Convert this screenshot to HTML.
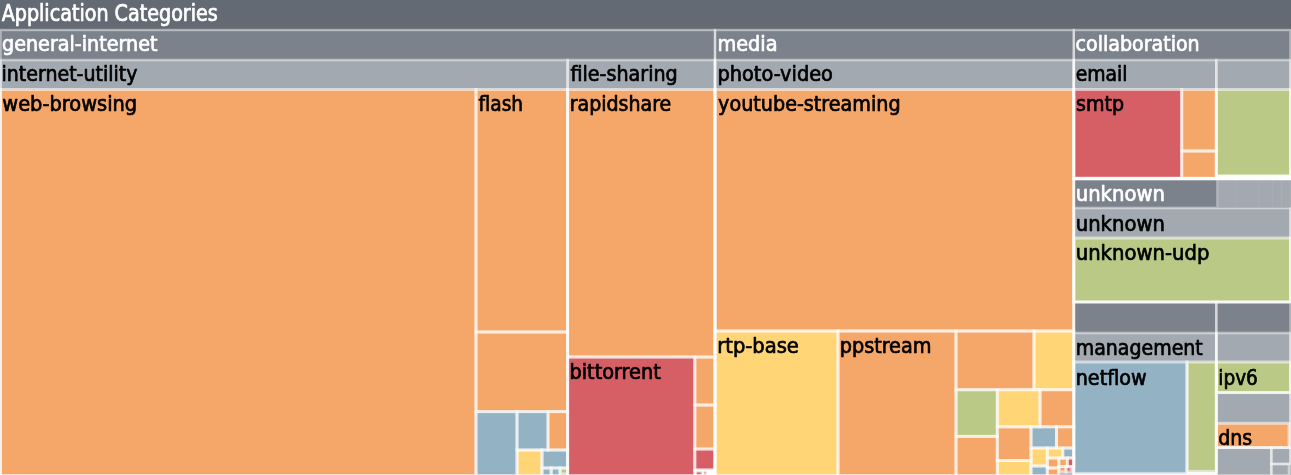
<!DOCTYPE html>
<html lang="en">
<head>
<meta charset="utf-8">
<title>Application Categories</title>
<style>
html,body{margin:0;padding:0;background:#fff;overflow:hidden}
svg{display:block}
text{font-family:"DejaVu Sans Condensed","Liberation Sans",sans-serif;font-size:22px;stroke-width:0.7;stroke-linejoin:round}
.s rect{fill:none;stroke:#fff;stroke-opacity:0.55;stroke-width:3.0}
.s rect.h1{stroke-width:2.4;stroke-opacity:0.46}
.s rect.h2{stroke-width:2.6;stroke-opacity:0.46}
</style>
</head>
<body>
<svg width="1291" height="475" viewBox="0 0 1291 475">
<defs><filter id="bl" filterUnits="userSpaceOnUse" x="-20" y="-20" width="1331" height="515"><feGaussianBlur stdDeviation="0.6"/></filter></defs>
<g filter="url(#bl)">
<rect x="-20" y="-20" width="1331" height="515" fill="#636a73"/>
<g class="f">
<rect x="0.5" y="30" width="714.5" height="445.8" fill="#7b828c"/>
<rect x="715" y="30" width="358.8" height="445.8" fill="#7b828c"/>
<rect x="1073.8" y="30" width="216.7" height="148.8" fill="#7b828c"/>
<rect x="1073.8" y="178.8" width="216.7" height="123.2" fill="#7b828c"/>
<rect x="1073.8" y="302" width="142.5" height="173.8" fill="#7b828c"/>
<rect x="1216.3" y="302" width="74.2" height="173.8" fill="#7b828c"/>
<rect x="0.5" y="60" width="567.1" height="415.8" fill="#a3a9b1"/>
<rect x="567.6" y="60" width="147.4" height="415.8" fill="#a3a9b1"/>
<rect x="715" y="60" width="358.8" height="415.8" fill="#a3a9b1"/>
<rect x="1073.8" y="60" width="142.5" height="118.8" fill="#a3a9b1"/>
<rect x="1216.3" y="60" width="74.2" height="118.8" fill="#a3a9b1"/>
<rect x="1073.8" y="208" width="216.7" height="94" fill="#a3a9b1"/>
<rect x="1073.8" y="333" width="142.5" height="142.8" fill="#a3a9b1"/>
<rect x="1216.3" y="333" width="74.2" height="59.6" fill="#a3a9b1"/>
<rect x="1216.3" y="392.6" width="74.2" height="55" fill="#a3a9b1"/>
<rect x="1216.3" y="447.6" width="55" height="28.2" fill="#a3a9b1"/>
<rect x="1271.3" y="447.6" width="19.2" height="16.4" fill="#a3a9b1"/>
<rect x="1271.3" y="464" width="17.7" height="11.8" fill="#a3a9b1"/>
<rect x="0.5" y="89.5" width="475.5" height="386.3" fill="#f5a669"/>
<rect x="476" y="89.5" width="91.6" height="242.5" fill="#f5a669"/>
<rect x="476" y="332" width="91.6" height="79.6" fill="#f5a669"/>
<rect x="476" y="411.6" width="41" height="64.2" fill="#93b2c3"/>
<rect x="517" y="411.6" width="31" height="38.4" fill="#93b2c3"/>
<rect x="548" y="411.6" width="19.6" height="38.4" fill="#f5a669"/>
<rect x="517" y="450" width="25" height="25.8" fill="#ffd574"/>
<rect x="542" y="450" width="25.6" height="18" fill="#93b2c3"/>
<rect x="542" y="468" width="9.2" height="7.8" fill="#93b2c3"/>
<rect x="551.2" y="468" width="8.8" height="7.8" fill="#93b2c3"/>
<rect x="560" y="468" width="7.6" height="6" fill="#bac985"/>
<rect x="567.6" y="89.5" width="147.4" height="267.5" fill="#f5a669"/>
<rect x="567.6" y="357" width="127.2" height="118.8" fill="#d65f66"/>
<rect x="694.8" y="357" width="20.2" height="48" fill="#f5a669"/>
<rect x="694.8" y="405" width="20.2" height="44" fill="#f5a669"/>
<rect x="694.8" y="449" width="20.2" height="21" fill="#d65f66"/>
<rect x="694.8" y="470" width="20.2" height="5.8" fill="#ffffff"/>
<rect x="695.6" y="471.2" width="6.4" height="4.6" fill="#d65f66"/>
<rect x="703.6" y="471.2" width="2.8" height="4.6" fill="#d65f66"/>
<rect x="715" y="89.5" width="358.8" height="241.5" fill="#f5a669"/>
<rect x="715" y="331" width="123" height="144.8" fill="#ffd574"/>
<rect x="838" y="331" width="118" height="144.8" fill="#f5a669"/>
<rect x="956" y="331" width="78" height="58.7" fill="#f5a669"/>
<rect x="1034" y="331" width="39.8" height="58.7" fill="#ffd574"/>
<rect x="956" y="389.7" width="41.3" height="46.7" fill="#bac985"/>
<rect x="956" y="436.4" width="41.3" height="39.4" fill="#f5a669"/>
<rect x="997.3" y="389.7" width="42.7" height="37.1" fill="#ffd574"/>
<rect x="1040" y="389.7" width="33.8" height="37.1" fill="#f5a669"/>
<rect x="997.3" y="426.8" width="33.7" height="33.7" fill="#f5a669"/>
<rect x="997.3" y="460.5" width="33.7" height="15.3" fill="#ffd574"/>
<rect x="1031" y="426.8" width="25.5" height="21.2" fill="#93b2c3"/>
<rect x="1056.5" y="426.8" width="17.3" height="21.2" fill="#f5a669"/>
<rect x="1031" y="448" width="16.3" height="18" fill="#ffd574"/>
<rect x="1031" y="466" width="16.3" height="9.8" fill="#93b2c3"/>
<rect x="1047.3" y="448" width="15.5" height="10" fill="#ffd574"/>
<rect x="1062.8" y="448" width="11" height="10" fill="#93b2c3"/>
<rect x="1047.3" y="458" width="11.5" height="10" fill="#f5a669"/>
<rect x="1047.3" y="468" width="11.5" height="7.8" fill="#f5a669"/>
<rect x="1058.8" y="458" width="8.5" height="8.5" fill="#f5a669"/>
<rect x="1067.3" y="458" width="6.5" height="8.5" fill="#d65f66"/>
<rect x="1058.8" y="466.5" width="7.2" height="5.5" fill="#f5a669"/>
<rect x="1066" y="466.5" width="5" height="5.5" fill="#d65f66"/>
<rect x="1073.8" y="89.5" width="107.9" height="88.8" fill="#d65f66"/>
<rect x="1181.7" y="89.5" width="34.6" height="61.5" fill="#f5a669"/>
<rect x="1181.7" y="151" width="34.6" height="27.3" fill="#f5a669"/>
<rect x="1216.3" y="89.5" width="74.2" height="86.5" fill="#bac985"/>
<rect x="1073.8" y="238" width="216.7" height="64" fill="#bac985"/>
<rect x="1073.8" y="362" width="113.2" height="111.4" fill="#93b2c3"/>
<rect x="1187" y="362" width="29.3" height="109.4" fill="#bac985"/>
<rect x="1216.3" y="362" width="74.2" height="30.6" fill="#bac985"/>
<rect x="1216.3" y="423.3" width="72.7" height="24.3" fill="#f5a669"/>
</g>
<g class="s">
<rect class="h1" x="0.5" y="30" width="714.5" height="445.8"/>
<rect class="h1" x="715" y="30" width="358.8" height="445.8"/>
<rect class="h1" x="1073.8" y="30" width="216.7" height="148.8"/>
<rect class="h1" x="1073.8" y="178.8" width="216.7" height="123.2"/>
<rect class="h1" x="1073.8" y="302" width="142.5" height="173.8"/>
<rect class="h1" x="1216.3" y="302" width="74.2" height="173.8"/>
<rect class="h2" x="0.5" y="60" width="567.1" height="415.8"/>
<rect class="h2" x="567.6" y="60" width="147.4" height="415.8"/>
<rect class="h2" x="715" y="60" width="358.8" height="415.8"/>
<rect class="h2" x="1073.8" y="60" width="142.5" height="118.8"/>
<rect class="h2" x="1216.3" y="60" width="74.2" height="118.8"/>
<rect class="h2" x="1073.8" y="208" width="216.7" height="94"/>
<rect class="h2" x="1073.8" y="333" width="142.5" height="142.8"/>
<rect class="h2" x="1216.3" y="333" width="74.2" height="59.6"/>
<rect class="h2" x="1216.3" y="392.6" width="74.2" height="55"/>
<rect class="h2" x="1216.3" y="447.6" width="55" height="28.2"/>
<rect class="h2" x="1271.3" y="447.6" width="19.2" height="16.4"/>
<rect class="h2" x="1271.3" y="464" width="17.7" height="11.8"/>
<rect x="0.5" y="89.5" width="475.5" height="386.3"/>
<rect x="476" y="89.5" width="91.6" height="242.5"/>
<rect x="476" y="332" width="91.6" height="79.6"/>
<rect x="476" y="411.6" width="41" height="64.2"/>
<rect x="517" y="411.6" width="31" height="38.4"/>
<rect x="548" y="411.6" width="19.6" height="38.4"/>
<rect x="517" y="450" width="25" height="25.8"/>
<rect x="542" y="450" width="25.6" height="18"/>
<rect x="542" y="468" width="9.2" height="7.8"/>
<rect x="551.2" y="468" width="8.8" height="7.8"/>
<rect x="560" y="468" width="7.6" height="6"/>
<rect x="567.6" y="89.5" width="147.4" height="267.5"/>
<rect x="567.6" y="357" width="127.2" height="118.8"/>
<rect x="694.8" y="357" width="20.2" height="48"/>
<rect x="694.8" y="405" width="20.2" height="44"/>
<rect x="694.8" y="449" width="20.2" height="21"/>
<rect x="694.8" y="470" width="20.2" height="5.8"/>
<rect x="695.6" y="471.2" width="6.4" height="4.6"/>
<rect x="703.6" y="471.2" width="2.8" height="4.6"/>
<rect x="715" y="89.5" width="358.8" height="241.5"/>
<rect x="715" y="331" width="123" height="144.8"/>
<rect x="838" y="331" width="118" height="144.8"/>
<rect x="956" y="331" width="78" height="58.7"/>
<rect x="1034" y="331" width="39.8" height="58.7"/>
<rect x="956" y="389.7" width="41.3" height="46.7"/>
<rect x="956" y="436.4" width="41.3" height="39.4"/>
<rect x="997.3" y="389.7" width="42.7" height="37.1"/>
<rect x="1040" y="389.7" width="33.8" height="37.1"/>
<rect x="997.3" y="426.8" width="33.7" height="33.7"/>
<rect x="997.3" y="460.5" width="33.7" height="15.3"/>
<rect x="1031" y="426.8" width="25.5" height="21.2"/>
<rect x="1056.5" y="426.8" width="17.3" height="21.2"/>
<rect x="1031" y="448" width="16.3" height="18"/>
<rect x="1031" y="466" width="16.3" height="9.8"/>
<rect x="1047.3" y="448" width="15.5" height="10"/>
<rect x="1062.8" y="448" width="11" height="10"/>
<rect x="1047.3" y="458" width="11.5" height="10"/>
<rect x="1047.3" y="468" width="11.5" height="7.8"/>
<rect x="1058.8" y="458" width="8.5" height="8.5"/>
<rect x="1067.3" y="458" width="6.5" height="8.5"/>
<rect x="1058.8" y="466.5" width="7.2" height="5.5"/>
<rect x="1066" y="466.5" width="5" height="5.5"/>
<rect x="1073.8" y="89.5" width="107.9" height="88.8"/>
<rect x="1181.7" y="89.5" width="34.6" height="61.5"/>
<rect x="1181.7" y="151" width="34.6" height="27.3"/>
<rect x="1216.3" y="89.5" width="74.2" height="86.5"/>
<rect x="1073.8" y="238" width="216.7" height="64"/>
<rect x="1073.8" y="362" width="113.2" height="111.4"/>
<rect x="1187" y="362" width="29.3" height="109.4"/>
<rect x="1216.3" y="362" width="74.2" height="30.6"/>
<rect x="1216.3" y="423.3" width="72.7" height="24.3"/>
</g>
<g class="x">
<rect x="1216.3" y="180" width="74.2" height="27.3" fill="#a3a8b1"/>
<rect x="1216.3" y="180" width="2.2" height="27.3" fill="#fff" fill-opacity="0.18"/>
<rect x="1236" y="180" width="1.2" height="27.3" fill="#fff" fill-opacity="0.06"/>
<rect x="1258" y="180" width="1.2" height="27.3" fill="#fff" fill-opacity="0.06"/>
<rect x="1272" y="180" width="1.2" height="27.3" fill="#fff" fill-opacity="0.07"/>
<rect x="1281" y="180" width="1.2" height="27.3" fill="#fff" fill-opacity="0.08"/>
<rect x="1075" y="176.9" width="216" height="3.4" fill="#fff" fill-opacity="0.85"/>
<rect x="1217.5" y="174.8" width="73.5" height="3" fill="#fff" fill-opacity="0.9"/>
<rect x="1075" y="473.6" width="113" height="3" fill="#fff" fill-opacity="0.9"/>
<rect x="1187" y="471.8" width="29" height="4" fill="#fff" fill-opacity="0.9"/>
</g>
</g>
<g class="t">
<text transform="translate(1.65,20.9) scale(0.967,1.03)" fill="#fff" stroke="#fff" stroke-width="0.9">Application Categories</text>
<text transform="translate(2.00,50.9) scale(0.969,0.97)" fill="#fff" stroke="#fff" stroke-width="0.9">general-internet</text>
<text transform="translate(717.40,50.9) scale(0.975,0.97)" fill="#fff" stroke="#fff" stroke-width="0.9">media</text>
<text transform="translate(1075.60,50.9) scale(0.962,0.97)" fill="#fff" stroke="#fff" stroke-width="0.9">collaboration</text>
<text transform="translate(1.45,80.8) scale(0.961,0.97)" fill="#000" stroke="#000">internet-utility</text>
<text transform="translate(570.50,80.8) scale(0.966,0.97)" fill="#000" stroke="#000">file-sharing</text>
<text transform="translate(717.40,80.8) scale(0.979,0.97)" fill="#000" stroke="#000">photo-video</text>
<text transform="translate(1075.70,80.8) scale(0.950,0.97)" fill="#000" stroke="#000">email</text>
<text transform="translate(2.30,110.7) scale(0.981,0.97)" fill="#000" stroke="#000">web-browsing</text>
<text transform="translate(478.55,110.7) scale(0.940,0.97)" fill="#000" stroke="#000">flash</text>
<text transform="translate(569.75,110.7) scale(0.960,0.97)" fill="#000" stroke="#000">rapidshare</text>
<text transform="translate(718.10,110.7) scale(0.969,0.97)" fill="#000" stroke="#000">youtube-streaming</text>
<text transform="translate(1076.05,110.7) scale(0.960,0.97)" fill="#000" stroke="#000">smtp</text>
<text transform="translate(1075.70,200.9) scale(0.992,0.97)" fill="#fff" stroke="#fff" stroke-width="0.9">unknown</text>
<text transform="translate(1075.70,230.6) scale(0.992,0.97)" fill="#000" stroke="#000">unknown</text>
<text transform="translate(1075.70,260.4) scale(0.992,0.97)" fill="#000" stroke="#000">unknown-udp</text>
<text transform="translate(717.25,352.6) scale(0.985,0.97)" fill="#000" stroke="#000">rtp-base</text>
<text transform="translate(839.70,352.6) scale(0.972,0.97)" fill="#000" stroke="#000">ppstream</text>
<text transform="translate(569.40,378.6) scale(0.978,0.97)" fill="#000" stroke="#000">bittorrent</text>
<text transform="translate(1075.70,354.9) scale(0.959,0.97)" fill="#000" stroke="#000">management</text>
<text transform="translate(1075.70,384.9) scale(0.969,0.97)" fill="#000" stroke="#000">netflow</text>
<text transform="translate(1218.25,384.9) scale(0.935,0.97)" fill="#000" stroke="#000">ipv6</text>
<text transform="translate(1218.20,444.8) scale(0.962,0.97)" fill="#000" stroke="#000">dns</text>
</g>
</svg>
</body>
</html>
